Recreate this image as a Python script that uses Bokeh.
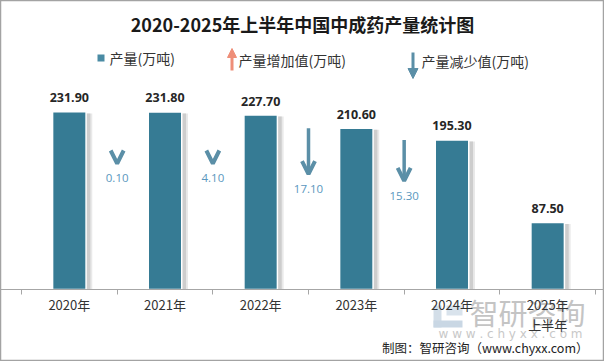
from bokeh.plotting import figure
from bokeh.models import Range1d, FixedTicker, Label, Arrow, OpenHead, NormalHead, ColumnDataSource, LinearAxis
from bokeh.core.properties import value
from bokeh.transform import dodge
from bokeh.embed import file_html
from bokeh.resources import INLINE

# ---------------- data ----------------
years = ["2020年", "2021年", "2022年", "2023年", "2024年", "2025年\n上半年"]
output = [231.90, 231.80, 227.70, 210.60, 195.30, 87.50]          # 产量(万吨)
output_labels = ["231.90", "231.80", "227.70", "210.60", "195.30", "87.50"]
decrease = [0.10, 4.10, 17.10, 15.30]                              # 产量减少值(万吨), between consecutive years
decrease_labels = ["0.10", "4.10", "17.10", "15.30"]

title = "2020-2025年上半年中国中成药产量统计图"
legend_texts = ["产量(万吨)", "产量增加值(万吨)", "产量减少值(万吨)"]
footer = "制图：智研咨询（www.chyxx.com）"

# ---------------- layout ----------------
W, H = 604, 361
PXU = 0.766                 # pixels per unit on the value axis
BASE = 289                  # pixel row of the baseline
AX_L, AX_R = 21, 595        # pixel extent of the category axis
CAT_PX = (AX_R - AX_L) / 6.0
ARROW_SCALE = 3.5           # arrow length (value units) per unit of decrease
HEAD_LEN = 16.5             # minimum arrow length (value units): head only
SMALL_TOP = 181.0           # where short (head-only) arrows start

FONT = "Noto Sans CJK SC"
BAR = "#367B94"
ARROW_BLUE = "#5B8FA7"
LABEL_BLUE = "#5A97BE"
SALMON = "#EE8E78"


def X(px):  # pixel -> data x
    return (px - AX_L) / CAT_PX - 0.5


def Y(py):  # pixel -> data y
    return (BASE - py) / PXU


p = figure(width=W, height=H, x_range=Range1d(X(0), X(W)), y_range=Range1d(Y(H), Y(0)),
           output_backend="svg", toolbar_location=None,
           x_axis_location=None, y_axis_location=None,
           min_border=0, outline_line_color="#A3A3A3", outline_line_width=1.5)
p.grid.visible = False
p.background_fill_color = "white"
p.border_fill_color = "white"

# category axis drawn at the baseline
ax = LinearAxis(fixed_location=0)
ax.ticker = FixedTicker(ticks=list(range(len(years))),
                        minor_ticks=[i - 0.5 for i in range(len(years) + 1)])
ax.major_label_overrides = {i: y for i, y in enumerate(years)}
ax.major_tick_line_color = None
ax.major_tick_out = 0
ax.major_tick_in = 0
ax.minor_tick_out = 5
ax.minor_tick_in = 0
ax.minor_tick_line_color = "#A6A6A6"
ax.axis_line_color = "#A6A6A6"
ax.major_label_text_font = FONT
ax.major_label_text_font_size = "13px"
ax.major_label_text_color = "#333333"
ax.major_label_text_line_height = 1.1
ax.major_label_standoff = 0
p.add_layout(ax, "below")

# ---------------- watermark (underneath) ----------------
p.quad(left=[X(433)], right=[X(441)], bottom=[Y(327)], top=[Y(305)],
       fill_color="#D3DEE8", line_color=None, level="underlay")
p.quad(left=[X(433)], right=[X(462)], bottom=[Y(327)], top=[Y(320)],
       fill_color="#C9D7E4", line_color=None, level="underlay")
p.quad(left=[X(446)], right=[X(462)], bottom=[Y(315)], top=[Y(305)],
       fill_color="#D9E3EC", line_color=None, level="underlay")
p.add_layout(Label(x=X(527), y=Y(311), text="智研咨询", text_align="center", text_baseline="middle",
                   text_font=FONT, text_font_size="29px", text_color="#C4C4C4", level="underlay"))
p.add_layout(Label(x=X(510), y=Y(333), text="w w w . c h y x x . c o m", text_align="center",
                   text_baseline="middle", text_font="DejaVu Sans", text_font_size="12px",
                   text_color="#C8C8C8", level="underlay"))

# ---------------- bars ----------------
src = ColumnDataSource(dict(x=list(range(len(output))), top=output, label=output_labels,
                            stop=[v - 2 for v in output]))
p.vbar(x=dodge("x", 0.065, range=p.x_range), top="stop", width=0.35, source=src,
       fill_color="#E9E9E9", line_color=None)
p.vbar(x=dodge("x", 0.045, range=p.x_range), top="stop", width=0.35, source=src,
       fill_color="#CDCDCD", line_color=None)
p.vbar(x="x", top="top", width=0.35, source=src, fill_color=BAR,
       line_color="white", line_width=1.5)
p.text(x="x", y="top", text="label", source=src, y_offset=-14,
       text_align="center", text_baseline="middle",
       text_font=value("Open Sans"), text_font_style="bold",
       text_font_size="12.5px", text_color="#262626")

# ---------------- decrease arrows ----------------
xs, ys, ye, tips = [], [], [], []
for i, d in enumerate(decrease):
    long_arrow = d * ARROW_SCALE > HEAD_LEN
    top = output[i + 1] if long_arrow else SMALL_TOP
    tip = top - max(d * ARROW_SCALE, HEAD_LEN)
    xs.append(i + 0.5)
    tips.append(tip)
    ye.append(tip)
    ys.append(top if long_arrow else tip + 0.5)
asrc = ColumnDataSource(dict(x=xs, ys=ys, ye=ye, tip=tips, label=decrease_labels))
p.add_layout(Arrow(x_start="x", y_start="ys", x_end="x", y_end="ye", source=asrc,
                   line_color=ARROW_BLUE, line_width=3.5,
                   end=OpenHead(size=13, line_width=4, line_color=ARROW_BLUE)))
p.text(x="x", y="tip", text="label", source=asrc, y_offset=15,
       text_align="center", text_baseline="middle",
       text_font=value("Open Sans"), text_font_size="11.5px", text_color=LABEL_BLUE)

# ---------------- title ----------------
p.add_layout(Label(x=X(302), y=Y(23), text=title, text_align="center", text_baseline="middle",
                   text_font=FONT, text_font_style="bold", text_font_size="18px",
                   text_color="#1A1A1A"))

# ---------------- legend ----------------
p.scatter([X(100.5)], [Y(57.5)], marker="square", size=7, fill_color="#4A8BA4", line_color=None)
for tx, ty, t in zip([109, 238, 421], [57, 59, 60], legend_texts):
    p.add_layout(Label(x=X(tx), y=Y(ty), text=t, text_align="left", text_baseline="middle",
                       text_font=FONT, text_font_size="14px", text_color="#333333"))
p.add_layout(Arrow(x_start=X(231.5), y_start=Y(70), x_end=X(231.5), y_end=Y(48),
                   line_color=SALMON, line_width=3,
                   end=NormalHead(size=9, fill_color=SALMON, line_color=SALMON)))
p.add_layout(Arrow(x_start=X(412.5), y_start=Y(52), x_end=X(412.5), y_end=Y(78),
                   line_color=ARROW_BLUE, line_width=3,
                   end=NormalHead(size=10, fill_color=ARROW_BLUE, line_color=ARROW_BLUE)))

# ---------------- footer ----------------
p.add_layout(Label(x=X(588), y=Y(347), text=footer, text_align="right", text_baseline="middle",
                   text_font=FONT, text_font_size="12.5px", text_color="#222222"))

open("out.html", "w").write(file_html(p, INLINE))
